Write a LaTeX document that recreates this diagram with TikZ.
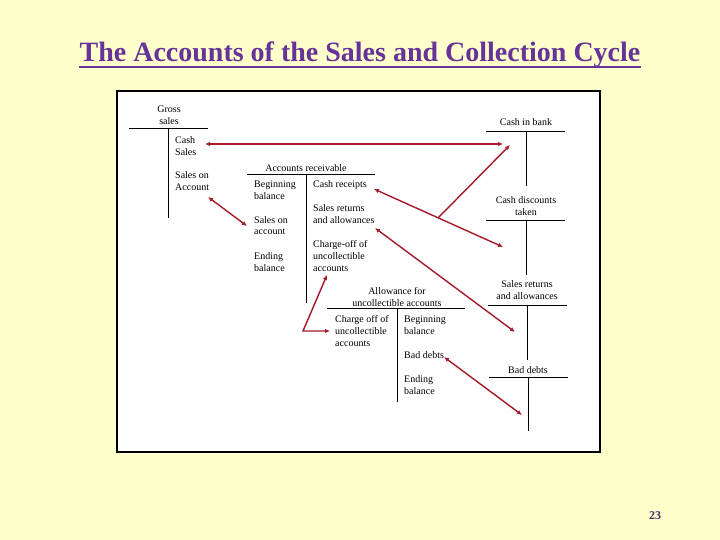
\documentclass[tikz,border=0pt]{standalone}
\usepackage{fontspec}
\setmainfont{Liberation Serif}
\usetikzlibrary{arrows.meta}
\definecolor{bgyellow}{HTML}{FFFFCC}
\definecolor{ttlpurple}{HTML}{663399}
\definecolor{pgnum}{HTML}{4A2F6E}
\definecolor{arrred}{RGB}{165,25,40}
\begin{document}
\begin{tikzpicture}[x=1pt,y=-1pt,
  txt/.style={font=\fontsize{10}{12}\selectfont, inner sep=0pt, align=left, anchor=base west},
  ctr/.style={font=\fontsize{10}{12}\selectfont, inner sep=0pt, align=center, anchor=base},
  tline/.style={line width=0.8pt},
  link/.style={draw=arrred, line width=1.4pt, {Latex[length=5pt,width=4.5pt]}-{Latex[length=5pt,width=4.5pt]}},
  linkone/.style={draw=arrred, line width=1.4pt, -{Latex[length=5pt,width=4.5pt]}},
  ]
\useasboundingbox (0,0) rectangle (720,540);
\fill[bgyellow] (0,0) rectangle (720,540);

% title
\node[anchor=base, inner sep=0pt, font=\fontsize{28}{30}\selectfont\bfseries, text=ttlpurple] (title) at (360,62) {The Accounts of the Sales and Collection Cycle};
\draw[ttlpurple, line width=1.6pt] ([yshift=-5pt]title.base west) -- ([yshift=-5pt]title.base east);

% frame
\draw[line width=2pt, fill=white] (117,91) rectangle (600,452);

% Gross sales (base anchor = last line baseline)
\node[ctr] (gs) at (169,125) {Gross\\sales};
\draw[tline] (129,128) -- (208,128);
\draw[tline] (168,128) -- (168,218);
\node[txt] (gscash) at (175,156) {Cash\\Sales};
\node[txt] (gsacc) at (175,191) {Sales on\\Account};

% Cash in bank
\node[ctr] (cib) at (526,126) {Cash in bank};
\draw[tline] (486,131) -- (565,131);
\draw[tline] (526,131) -- (526,186);

% Cash discounts taken
\node[ctr] (cdt) at (526,215) {Cash discounts\\taken};
\draw[tline] (486,220) -- (565,220);
\draw[tline] (526,220) -- (526,275);

% Sales returns and allowances
\node[ctr] (sra) at (527,299) {Sales returns\\and allowances};
\draw[tline] (488,305) -- (567,305);
\draw[tline] (527,305) -- (527,360);

% Bad debts
\node[ctr] (bd) at (528,373) {Bad debts};
\draw[tline] (489,377) -- (568,377);
\draw[tline] (528,377) -- (528,431);

% Accounts receivable
\node[ctr] (ar) at (306,172) {Accounts receivable};
\draw[tline] (247,174.5) -- (375,174.5);
\draw[tline] (306,174.5) -- (306,303);
\node[txt] (arbeg) at (254,199.5) {Beginning\\balance};
\node[txt] (arsoa) at (254,235) {Sales on\\account};
\node[txt] (arend) at (254,271.5) {Ending\\balance};
\node[txt] (arcr) at (313,187.5) {Cash receipts};
\node[txt] (arsr) at (313,223.5) {Sales returns\\and allowances};
\node[txt] (arco) at (313,271.5) {Charge-off of\\uncollectible\\accounts};

% Allowance for uncollectible accounts
\node[ctr] (afu) at (397,306) {Allowance for\\uncollectible accounts};
\draw[tline] (327,308.5) -- (465,308.5);
\draw[tline] (397,308.5) -- (397,402);
\node[txt] (afuco) at (335,346) {Charge off of\\uncollectible\\accounts};
\node[txt] (afubeg) at (404,334.5) {Beginning\\balance};
\node[txt] (afubd) at (404,358.5) {Bad debts};
\node[txt] (afuend) at (404,394.5) {Ending\\balance};

% connector end points
\coordinate (c1a) at (205,144);
\coordinate (c1b) at (503,144);
\coordinate (c2a) at (208,197);
\coordinate (c2b) at (247,226);
\coordinate (c3a) at (374,189);
\coordinate (c3b) at (503,247);
\coordinate (c3m) at (438,218);
\coordinate (c3c) at (510,145);
\coordinate (c4a) at (375,228);
\coordinate (c4b) at (515,332);
\coordinate (c5a) at (327,275);
\coordinate (c5m) at (303,331);
\coordinate (c5b) at (330,331);
\coordinate (c6a) at (444,357);
\coordinate (c6b) at (522,415);

\draw[link] (c1a) -- (c1b);
\draw[link] (c2a) -- (c2b);
\draw[link] (c3a) -- (c3b);
\draw[linkone] (c3m) -- (c3c);
\draw[link] (c4a) -- (c4b);
\draw[link, line join=miter] (c5a) -- (c5m) -- (c5b);
\draw[link] (c6a) -- (c6b);

% page number
\node[anchor=base, inner sep=0pt, font=\fontsize{12}{14}\selectfont\bfseries, text=pgnum] (pn) at (655,519) {23};
\end{tikzpicture}
\end{document}
